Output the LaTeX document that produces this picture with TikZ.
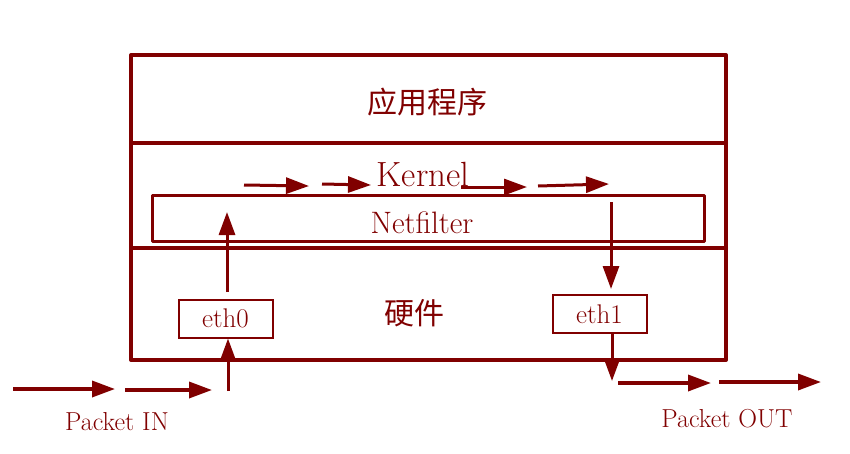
\documentclass[tikz,border=0pt]{standalone}
\usepackage{fontspec}
\newfontfamily\cjk{Noto Sans CJK SC}
\usetikzlibrary{arrows.meta}
\definecolor{dred}{HTML}{800000}
\begin{document}
\begin{tikzpicture}[x=1pt,y=-1pt,
  frame/.style={draw=dred,line width=4pt,line cap=round,line join=round},
  nfbox/.style={draw=dred,line width=3pt,line join=round,minimum width=552pt,minimum height=46pt,inner sep=0pt},
  ethbox/.style={draw=dred,line width=2pt,minimum width=94pt,minimum height=38pt,inner sep=0pt,text=dred,font=\fontsize{27}{32}\selectfont},
  lbl/.style={text=dred,inner sep=0pt},
  flow/.style={draw=dred,line width=3.5pt,-{Triangle[length=23pt,width=16pt]}}]
\useasboundingbox (0,0) rectangle (850,453);
% outer frame
\coordinate (tl) at (131,55);
\coordinate (br) at (726,360);
\draw[frame] (tl) rectangle (br);
\draw[frame] (131,143) -- (726,143);
\draw[frame] (131,248) -- (726,248);
% texts
\node[lbl,font=\cjk\fontsize{30}{34}\selectfont] (app) at (427,102) {应用程序};
\node[lbl,font=\fontsize{35}{40}\selectfont] (kernel) at (423,174) {Kernel};
\node[nfbox] (nf) at (428.5,218.5) {};
\node[lbl,font=\fontsize{31}{36}\selectfont] (nftext) at (422,223) {Netfilter};
\node[lbl,font=\cjk\fontsize{30}{34}\selectfont] (hw) at (414,313) {硬件};
\node[ethbox] (eth0) at (225.5,318.5) {eth0};
\node[ethbox] (eth1) at (599.5,314) {eth1};
\node[lbl,font=\fontsize{26}{30}\selectfont] (pin) at (117,422) {Packet IN};
\node[lbl,font=\fontsize{26}{30}\selectfont] (pout) at (727,419) {Packet OUT};
% kernel arrows
\coordinate (k1a) at (244,185); \coordinate (k1b) at (309,186);
\coordinate (k2a) at (322,184); \coordinate (k2b) at (371,185);
\coordinate (k3a) at (461,187); \coordinate (k3b) at (527,187);
\coordinate (k4a) at (538,186); \coordinate (k4b) at (609,184);
\draw[flow,line width=3pt] (k1a) -- (k1b);
\draw[flow,line width=3pt] (k2a) -- (k2b);
\draw[flow,line width=3pt] (k3a) -- (k3b);
\draw[flow,line width=3pt] (k4a) -- (k4b);
% up into netfilter
\coordinate (u1a) at (227,292); \coordinate (u1b) at (227,212);
\draw[flow,line width=3pt] (u1a) -- (u1b);
% down from netfilter to eth1
\coordinate (d1a) at (611,202); \coordinate (d1b) at (611,289);
\draw[flow,line width=3pt] (d1a) -- (d1b);
% into eth0
\coordinate (u0a) at (228,391);
\draw[flow,line width=3pt] (u0a) -- (eth0.south -| u0a);
% out of eth1
\coordinate (d0b) at (612,381);
\draw[flow,line width=3pt] (eth1.south -| d0b) -- (d0b);
% packet in arrows
\coordinate (i1a) at (13,389); \coordinate (i1b) at (115,389);
\coordinate (i2a) at (125,390); \coordinate (i2b) at (212,390);
\draw[flow] (i1a) -- (i1b);
\draw[flow] (i2a) -- (i2b);
% packet out arrows
\coordinate (o1a) at (618,383); \coordinate (o1b) at (711,383);
\coordinate (o2a) at (719,382); \coordinate (o2b) at (821,382);
\draw[flow] (o1a) -- (o1b);
\draw[flow] (o2a) -- (o2b);
\end{tikzpicture}
\end{document}
